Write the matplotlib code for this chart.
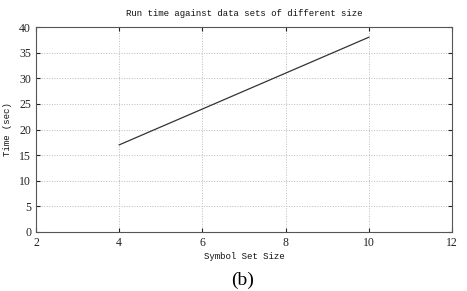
import matplotlib
matplotlib.use("Agg")
import matplotlib.pyplot as plt

symbol_set_size = [4, 6, 8, 10]
run_time = [17, 24, 31, 38]
x_ticks = [2, 4, 6, 8, 10, 12]
y_ticks = [0, 5, 10, 15, 20, 25, 30, 35, 40]

fig = plt.figure(figsize=(4.67, 2.91), dpi=100)
ax = fig.add_axes([36 / 467, 1 - 232 / 291, (452 - 36) / 467, (232 - 27) / 291])

ax.plot(symbol_set_size, run_time, color="#333333", linewidth=0.9)

ax.set_xlim(2, 12)
ax.set_ylim(0, 40)
ax.set_xticks(x_ticks)
ax.set_yticks(y_ticks)
ax.grid(True, linestyle=":", color="#bbbbbb", linewidth=0.7)
ax.tick_params(direction="in", top=True, right=True, length=3, labelsize=8.5,
               colors="#222222")
for lbl in ax.get_xticklabels() + ax.get_yticklabels():
    lbl.set_family("Liberation Serif")
for s in ax.spines.values():
    s.set_color("#555555")
    s.set_linewidth(0.8)

ax.set_title("Run time against data sets of different size", fontsize=6.5,
             family="Liberation Mono", color="#111111", pad=8)
ax.set_xlabel("Symbol Set Size", fontsize=6.5, family="Liberation Mono",
              color="#111111", labelpad=2)
ax.set_ylabel("Time (sec)", fontsize=6.5, family="Liberation Mono",
              color="#111111", labelpad=5)

fig.text(243 / 467, 1 - 280 / 291, "(b)", ha="center", va="center",
         fontsize=14, family="Liberation Serif")

fig.savefig("out.png", dpi=100)
